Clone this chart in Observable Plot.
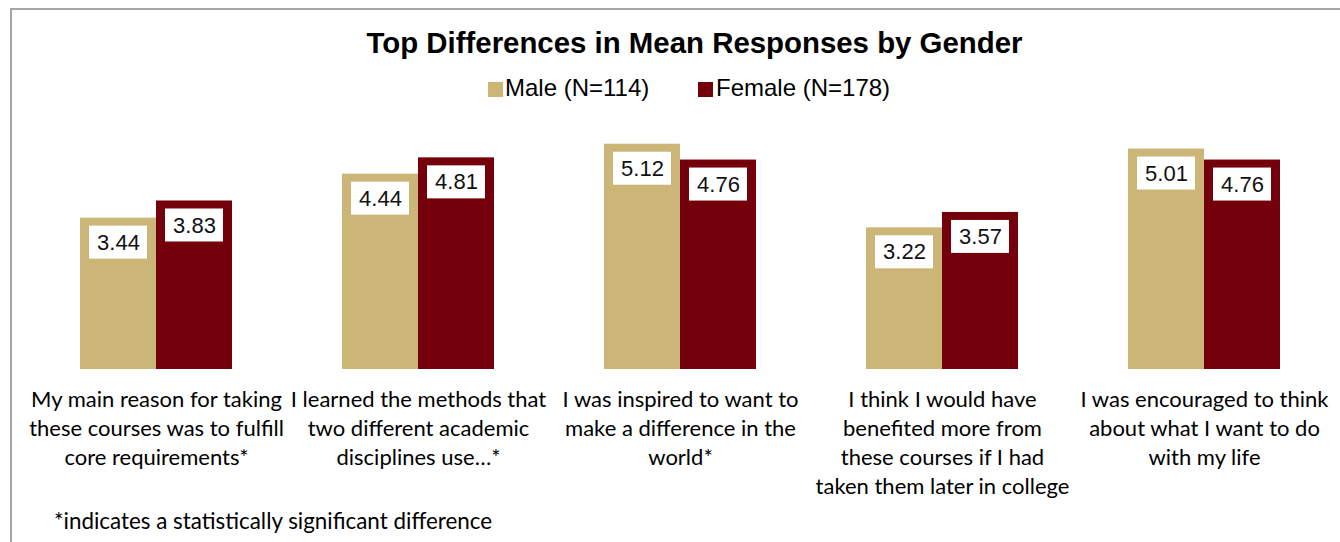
<!DOCTYPE html>
<html>
<head>
<meta charset="utf-8">
<script src="https://cdn.jsdelivr.net/npm/d3@7"></script>
<script src="https://cdn.jsdelivr.net/npm/@observablehq/plot@0.6"></script>
<style>
  html, body { margin: 0; padding: 0; background: #fff; }
  #wrap { position: relative; width: 1340px; height: 542px; overflow: hidden; background: #fff; }
  #frame { position: absolute; left: 10px; top: 8px; width: 1400px; height: 600px;
           border-left: 2px solid #a6a6a6; border-top: 2px solid #a6a6a6; }
  #title { position: absolute; left: 0; top: 28px; width: 1389px; text-align: center;
           font: bold 29.4px "Liberation Sans", Arial, sans-serif; line-height: 1; color: #000; }
  .sw { position: absolute; width: 15px; height: 15px; }
  .lg { position: absolute; font: 24px "Liberation Sans", Arial, sans-serif; line-height: 1; color: #000; white-space: nowrap; }
  #chart { position: absolute; left: 0; top: 100px; }
  #note { position: absolute; left: 54px; top: 510px; font: 22.4px Lato, "Open Sans", sans-serif; line-height: 1; color: #000; white-space: nowrap; }
</style>
</head>
<body>
<div id="wrap">
  <div id="frame"></div>
  <div id="title"></div>
  <div id="legend"></div>
  <div id="chart"></div>
  <div id="note"></div>
</div>
<script>
const titleText = "Top Differences in Mean Responses by Gender";
const noteText = "*indicates a statistically significant difference";
const categories = [
  "My main reason for taking\nthese courses was to fulfill\ncore requirements*",
  "I learned the methods that\ntwo different academic\ndisciplines use…*",
  "I was inspired to want to\nmake a difference in the\nworld*",
  "I think I would have\nbenefited more from\nthese courses if I had\ntaken them later in college",
  "I was encouraged to think\nabout what I want to do\nwith my life"
];
const series = ["Male", "Female"];
const seriesLabels = ["Male (N=114)", "Female (N=178)"];
const maleValues = [3.44, 4.44, 5.12, 3.22, 5.01];
const femaleValues = [3.83, 4.81, 4.76, 3.57, 4.76];
const colors = ["#CBB677", "#74000C"];

const data = [];
categories.forEach((c, i) => {
  data.push({category: c, gender: series[0], value: maleValues[i]});
  data.push({category: c, gender: series[1], value: femaleValues[i]});
});

document.getElementById("title").textContent = titleText;
document.getElementById("note").textContent = noteText;

// legend
const legend = document.getElementById("legend");
const swLeft = [488, 698], txLeft = [505, 716];
series.forEach((s, i) => {
  const sw = document.createElement("div");
  sw.className = "sw";
  sw.style.left = swLeft[i] + "px"; sw.style.top = "82px"; sw.style.background = colors[i];
  legend.appendChild(sw);
  const t = document.createElement("div");
  t.className = "lg";
  t.style.left = txLeft[i] + "px"; t.style.top = "76px";
  t.textContent = seriesLabels[i];
  legend.appendChild(t);
});

const chart = Plot.plot({
  width: 1340,
  height: 442,
  marginLeft: 25,
  marginRight: 5,
  marginTop: 5,
  marginBottom: 173,
  style: {background: "transparent", overflow: "visible"},
  fx: {domain: categories, paddingInner: 0.42, paddingOuter: 0.21, label: null},
  x: {domain: series, padding: 0, axis: null},
  y: {domain: [0, 6], axis: null},
  color: {domain: series, range: colors},
  marks: [
    Plot.barY(data, {fx: "category", x: "gender", y: "value", fill: "gender"}),
    Plot.barY(data, {fx: "category", x: "gender", y1: "value", y2: "value",
      insetTop: 8, insetBottom: -41, insetLeft: 9, insetRight: 9, fill: "white"}),
    Plot.text(data, {fx: "category", x: "gender", y: "value", dy: 24.5,
      text: d => d.value.toFixed(2), fontSize: 22, fontFamily: "Liberation Sans, Arial, sans-serif", fill: "#111"}),
    Plot.axisFx({anchor: "bottom", tickSize: 0, tickPadding: 17, fontSize: 22,
      lineHeight: 29 / 22, fontFamily: "Lato, 'Open Sans', sans-serif", fill: "#000", label: null})
  ]
});
document.getElementById("chart").appendChild(chart);
</script>
</body>
</html>
